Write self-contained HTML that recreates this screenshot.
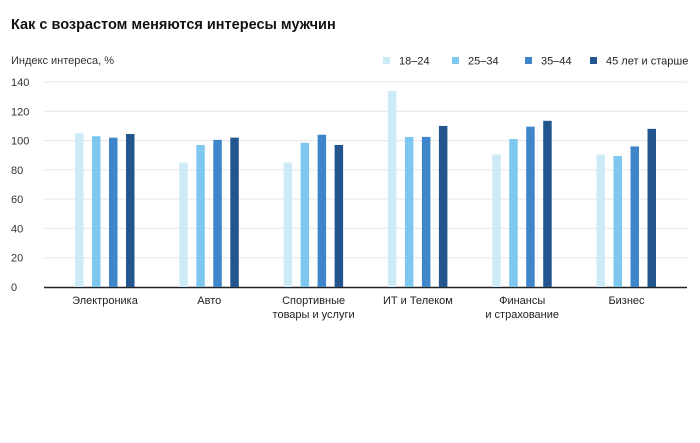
<!DOCTYPE html>
<html><head><meta charset="utf-8"><style>
body{margin:0;background:#fff;font-family:"Liberation Sans",sans-serif;}
svg text{font-family:"Liberation Sans","Noto Sans CJK SC",sans-serif;}
</style></head><body>
<svg id="c" width="700" height="438" xmlns="http://www.w3.org/2000/svg">
<text x="11" y="29" font-size="14.5" font-weight="bold" fill="#111">Как с возрастом меняются интересы мужчин</text>
<text x="11" y="64" font-size="11" fill="#333">Индекс интереса, %</text>
<g id="grid"></g><g id="bars"></g><g id="labels"></g><g id="legend"></g>
</svg>
<script>
const categories=[["Электроника"],["Авто"],["Спортивные","товары и услуги"],["ИТ и Телеком"],["Финансы","и страхование"],["Бизнес"]];
const seriesNames=["18–24","25–34","35–44","45 лет и старше"];
const s1=[105,85,85,134,90.5,90.5];
const s2=[103,97,98.5,102.5,101,89.5];
const s3=[102,100.5,104,102.5,109.5,96];
const s4=[104.5,102,97,110,113.5,108];
const yTicks=[0,20,40,60,80,100,120,140];
const series=[s1,s2,s3,s4];
const colors=["#cdebf7","#7ec8ef","#3e86c9","#23568f"];
const NS="http://www.w3.org/2000/svg";
const y=v=>287-v*(205/140);
const gx=i=>105+i*104.3;
function mk(t,a,p){const e=document.createElementNS(NS,t);for(const k in a)e.setAttribute(k,a[k]);p.appendChild(e);return e;}
const G=document.getElementById('grid');
yTicks.forEach(v=>{
 if(v>0){const l=mk('line',{x1:44,x2:687,y1:y(v),y2:y(v),stroke:'#e6e6e6','stroke-width':1},G);
 
 }
 const t=mk('text',{x:11,y:y(v)+4,'font-size':11,fill:'#333'},G);t.textContent=v;
 
 
});
const ax=mk('line',{x1:44,x2:687,y1:287.5,y2:287.5,stroke:'#222','stroke-width':1.5},G);


const B=document.getElementById('bars');
series.forEach((s,si)=>s.forEach((v,ci)=>{
 const r=mk('rect',{x:gx(ci)-30+si*17,y:y(v),width:8.5,height:287-y(v),fill:colors[si]},B);
 
 
}));
const L=document.getElementById('labels');
categories.forEach((c,i)=>c.forEach((ln,j)=>{
 const t=mk('text',{x:gx(i),y:304+j*14,'font-size':11,fill:'#222','text-anchor':'middle'},L);t.textContent=ln;
 
 
}));
const LG=document.getElementById('legend');
const lx=[383,452,525,590];
seriesNames.forEach((n,i)=>{
 const r=mk('rect',{x:lx[i],y:57,width:7,height:7,fill:colors[i]},LG);
 
 
 const t=mk('text',{x:lx[i]+16,y:64.5,'font-size':11,fill:'#222'},LG);t.textContent=n;
 
 
});
</script>
</body></html>
